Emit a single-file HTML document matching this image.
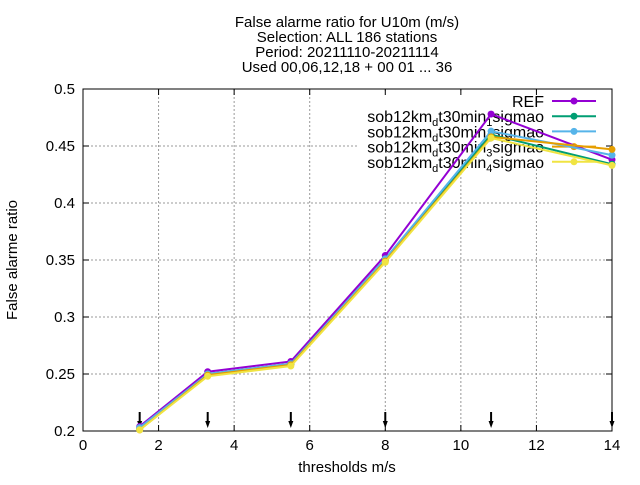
<!DOCTYPE html>
<html><head><meta charset="utf-8"><style>
body{margin:0;background:#fff}
text{font-family:"Liberation Sans",sans-serif;fill:#000}
</style></head><body>
<svg id="c" width="640" height="480" xmlns="http://www.w3.org/2000/svg">
<g font-size="15" text-anchor="middle">
<text x="347" y="27">False alarme ratio  for U10m (m/s)</text>
<text x="347" y="42">Selection: ALL    186 stations</text>
<text x="347" y="57">Period: 20211110-20211114</text>
<text x="347" y="72">Used 00,06,12,18 + 00 01 ... 36</text>
</g>
<g id="grid"></g>
<rect x="358" y="92" width="252" height="76" fill="#fff"/>
<rect x="83" y="89" width="529" height="342" fill="none" stroke="#000"/>
<g id="axes" font-size="15"></g>
<text x="347" y="472" font-size="15" text-anchor="middle">thresholds m/s</text>
<text transform="translate(17,260) rotate(-90)" font-size="15" text-anchor="middle">False alarme ratio</text>
<g id="legend" font-size="16"></g>
<g id="arrows"></g>
<g id="series"></g>
</svg>
<script>
const xs=[1.5,3.3,5.5,8,10.8,14];
const ref=[0.204,0.252,0.261,0.354,0.478,0.438];
const exp1=[0.202,0.250,0.259,0.351,0.460,0.434];
const exp2=[0.203,0.250,0.259,0.351,0.463,0.442];
const exp3=[0.201,0.249,0.258,0.349,0.458,0.447];
const exp4=[0.201,0.248,0.257,0.348,0.457,0.433];
const xTicks=[0,2,4,6,8,10,12,14];
const yTicks=[0.2,0.25,0.3,0.35,0.4,0.45,0.5];
const seriesNames=["REF","1","2","3","4"];
const colors=["#9400d3","#009e73","#56b4e9","#e69f00","#f0e442"];
const NS="http://www.w3.org/2000/svg";
const X=v=>83+v/14*529, Y=v=>431-(v-0.2)/0.3*342;
function mk(t,a,p){const e=document.createElementNS(NS,t);for(const k in a)e.setAttribute(k,a[k]);p.appendChild(e);return e;}
const grid=document.getElementById('grid'),axes=document.getElementById('axes');
xTicks.forEach(t=>{
 if(t>0&&t<14){const g=mk('line',{x1:X(t),x2:X(t),y1:89,y2:431,stroke:'#999','stroke-dasharray':'2,2'},grid);
 }
 const l=mk('line',{x1:X(t),x2:X(t),y1:431,y2:425,stroke:'#000'},axes);
 
 const l2=mk('line',{x1:X(t),x2:X(t),y1:89,y2:95,stroke:'#000'},axes);
 
 const tx=mk('text',{x:X(t),y:450,'text-anchor':'middle'},axes);tx.textContent=t;
 
});
yTicks.forEach(t=>{
 if(t>0.2&&t<0.5){const g=mk('line',{x1:83,x2:612,y1:Y(t),y2:Y(t),stroke:'#999','stroke-dasharray':'2,2'},grid);
 }
 const l=mk('line',{x1:83,x2:89,y1:Y(t),y2:Y(t),stroke:'#000'},axes);
 
 const l2=mk('line',{x1:606,x2:612,y1:Y(t),y2:Y(t),stroke:'#000'},axes);
 
 const tx=mk('text',{x:75,y:Y(t)+5,'text-anchor':'end'},axes);tx.textContent=String(t);
 
});
const ar=document.getElementById('arrows');
xs.forEach(x=>{
 const l=mk('line',{x1:X(x),x2:X(x),y1:412,y2:422,stroke:'#000','stroke-width':2},ar);
 
 const p=mk('path',{d:`M${X(x)-2.5} 421 L${X(x)+2.5} 421 L${X(x)} 428 Z`,fill:'#000'},ar);
 
});
const all=[ref,exp1,exp2,exp3,exp4];
const sg=document.getElementById('series'),lg=document.getElementById('legend');
all.forEach((d,i)=>{
 const y=101+i*15.2;
 const t=mk('text',{x:544,y:y+6,'text-anchor':'end'},lg);
 
 if(i==0)t.textContent='REF';
 else t.innerHTML=`sob12km<tspan font-size="11" dy="4">d</tspan><tspan dy="-4">t30min</tspan><tspan font-size="11" dy="4">${seriesNames[i]}</tspan><tspan dy="-4">sigmao</tspan>`;
 const l=mk('line',{x1:552,x2:596,y1:y,y2:y,stroke:colors[i],'stroke-width':2},lg);
 
 const c=mk('circle',{cx:574,cy:y,r:3.5,fill:colors[i]},lg);
 
});
all.forEach((d,i)=>{
 const pl=mk('polyline',{points:xs.map((x,j)=>X(x)+','+Y(d[j])).join(' '),fill:'none',stroke:colors[i],'stroke-width':2},sg);
 
 xs.forEach((x,j)=>{const c=mk('circle',{cx:X(x),cy:Y(d[j]),r:3.5,fill:colors[i]},sg);
  });
});
</script>
</body></html>
